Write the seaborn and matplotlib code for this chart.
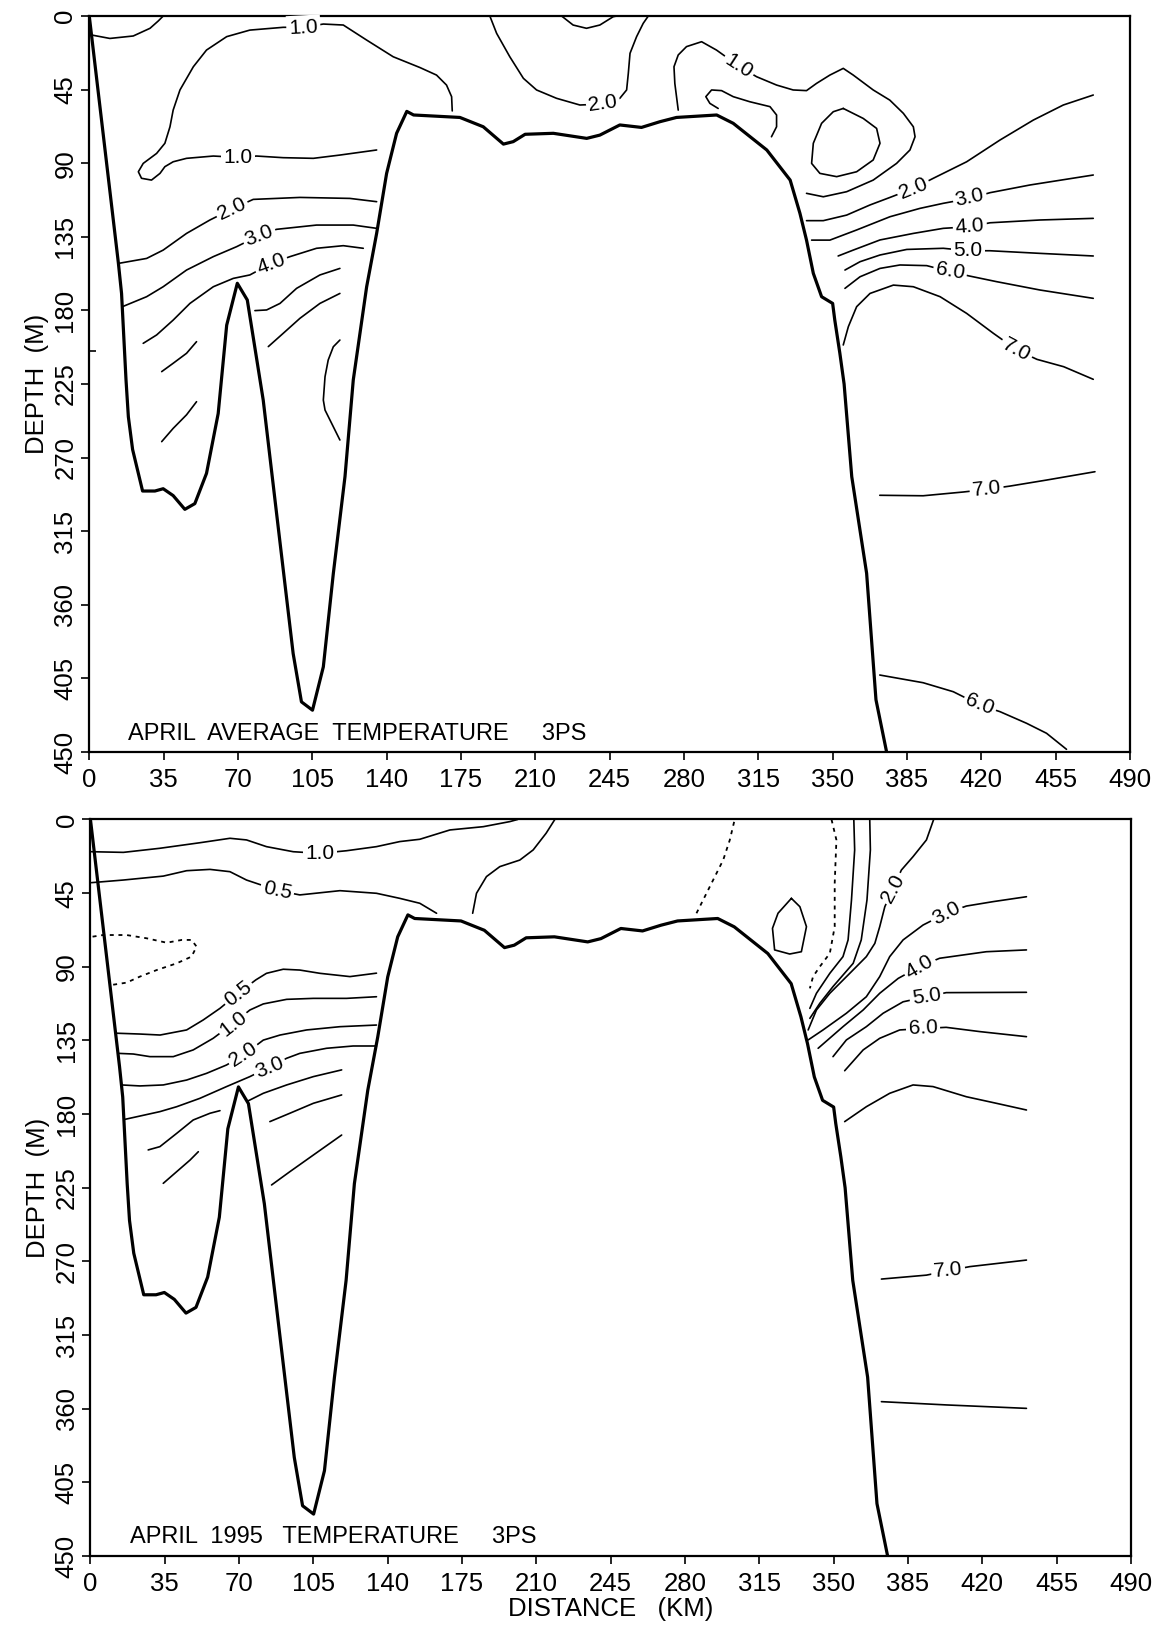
import matplotlib
matplotlib.use("Agg")
import matplotlib.pyplot as plt
import pandas as pd
import seaborn as sns

sns.set_style("ticks")
plt.rcParams["font.family"] = ["Liberation Sans", "DejaVu Sans"]
plt.rcParams.update({"text.color": "black", "axes.labelcolor": "black",
                     "xtick.color": "black", "ytick.color": "black",
                     "axes.edgecolor": "black"})

# ---------------- axes ----------------
DIST_TICKS = list(range(0, 491, 35))
DEPTH_TICKS = list(range(0, 451, 45))

# ---------------- bathymetry (same section for both panels) ----------------
BATHY = [(0, 0), (13.7, 151), (15.2, 169.6), (17.3, 222.5), (18.4, 245), (20.4, 265),
         (25.1, 290.4), (30.9, 290.4), (34.8, 289), (39.5, 293.2), (45, 301.6),
         (49.7, 298.1), (55.2, 279.6), (60.7, 243), (64.7, 189), (69.7, 163.4),
         (74.4, 173.6), (81.9, 234.8), (88.2, 304.2), (96, 389.8), (99.9, 419.3),
         (105.1, 424.4), (110.2, 397.9), (114.9, 340.9), (120.4, 281.6), (124.3, 222.5),
         (130.6, 165.5), (135.3, 132.9), (140, 96.2), (144.7, 71.7), (149.5, 58.3),
         (152.7, 60.5), (174.5, 62), (185.5, 67.7), (195, 78.3), (199.6, 76.8),
         (205.2, 72.3), (218.5, 71.7), (234.2, 74.8), (240.4, 72.8), (249.8, 66.6),
         (260, 68.1), (268.7, 64.6), (276.5, 62), (295.4, 60.5), (303.2, 65.6),
         (319, 81.9), (330, 100.3), (334.6, 120.6), (337.7, 137), (340.9, 157.3),
         (344.8, 171.6), (350, 175.7), (351, 185.8), (353.4, 206.2), (355.4, 225),
         (359, 281.6), (366, 340.7), (370.4, 418), (375.4, 449.9)]

# ---------------- top panel: April average ----------------
top_surface_left = [(1.1, 11.6), (9.7, 13.7), (20.7, 12.2), (28.6, 7.5), (32.5, 3), (34.8, 0)]
top_1p0_main = [(135.3, 81.9), (118, 85), (105.5, 87), (91.3, 86.6), (78.8, 85.6), (70.2, 86.4),
                (58.4, 85.6), (45.8, 87), (39.5, 89.1), (35.6, 92.1), (33.3, 96.2), (29.3, 100.3),
                (24.6, 99.2), (23.1, 95.2), (25.4, 90.1), (31.7, 84), (35.6, 77.8), (38, 67.7),
                (39.5, 57.5), (42.7, 45.2), (49, 31), (55.2, 20.8), (64.7, 12.6), (75.6, 8.6),
                (91.3, 6.9), (100.8, 6.9), (110.2, 4.9), (119.6, 5.5), (130.6, 14.7),
                (143.1, 24.9), (155.7, 31.5), (163.5, 36.1), (168.2, 42.2), (170.6, 49.3),
                (170.9, 58)]
top_2p0_left = [(135.3, 113.5), (122.7, 111.5), (99.2, 110.9), (77.2, 112.1), (67.8, 117.6),
                (56.8, 124.7), (45.8, 132.9), (34.8, 143.1), (27, 148.2), (13.9, 151.2)]
top_3p0_left = [(135.3, 129.8), (124.3, 127.8), (107, 127.8), (88.2, 130.4), (80.4, 133.9),
                (69.4, 141), (58.4, 147.1), (45.8, 155.3), (34.8, 165.5), (27, 171.6), (15.6, 177.7)]
top_4p0_left = [(129, 142), (119.6, 140.4), (107, 142), (94.5, 147.1), (85.8, 151.2), (75.6, 158.3),
                (67.8, 160.4), (58.4, 165.5), (47.4, 175.7), (39.5, 185.9), (31.7, 195), (25.4, 200.1)]
top_c5 = [(78, 180.1), (83.5, 179.7), (89.8, 175.7), (97.6, 166.5), (108.6, 158.3), (118, 154.3)]
top_c6 = [(84.3, 202.1), (91.3, 194), (99.2, 184.8), (108.6, 175.7), (118, 169.6)]
top_c7 = [(34.1, 217.4), (39.5, 212.3), (45.8, 206.2), (50.5, 199.1)]
top_c8 = [(34.1, 260.2), (39.5, 252.1), (45.8, 243.8), (50.5, 235.8)]
top_c9 = [(118, 198.1), (114.9, 202.2), (112.5, 210.3), (111, 220.5), (110.2, 234.8),
          (111, 240.9), (114.1, 249), (118, 259.2)]
top_loop_small = [(222.4, 0), (227.8, 5.5), (234.1, 7.5), (240.4, 5.5), (246.7, 0.4), (248.3, 0)]
top_2p0_mid = [(188.6, 0), (191.8, 10.6), (198, 24.9), (204.4, 38.1), (210.6, 45.2), (220, 50.3),
               (231, 54.4), (241.9, 53.8), (249.8, 50.3), (253, 45.2), (253.8, 35), (254.6, 22.8),
               (257.7, 12.6), (260.8, 4.5), (263.2, 0)]
top_1p0_right = [(277.3, 57.5), (275.7, 41.2), (275.3, 31), (277.3, 23.8), (281.2, 18.7),
                 (288.3, 15.7), (295.3, 20.8), (306.3, 31), (314.2, 37.1), (323.6, 42.2),
                 (331.4, 45.2), (337.7, 45.6), (342.4, 41.2), (348.7, 36.1), (355, 32),
                 (359.7, 36.1), (369.1, 45.2), (376.9, 51.4), (383.3, 59.5), (388, 67.7),
                 (388.8, 73.8), (386.4, 81.9), (380.1, 90.1), (369.1, 100.3), (356.6, 107.4),
                 (345.6, 110.5), (337.7, 108.4)]
top_tongue = [(296.1, 56.5), (292.2, 53.4), (290.3, 49.3), (293, 45.2), (297.7, 45.6),
              (303.2, 49.3), (311, 52.4), (320.5, 55.4), (323.6, 60.5), (323.6, 67.7), (321.2, 73.8)]
top_blob = [(355, 56.5), (364.4, 62.6), (370.7, 68.7), (372.3, 77.8), (369.1, 88), (361.3, 95.2),
            (351.9, 98.2), (344, 96.2), (340.1, 90.1), (340.9, 77.8), (344.8, 65.6),
            (350.3, 58.5), (355, 56.5)]
top_2p0_right = [(337.7, 125.1), (345.6, 125.1), (356.6, 121.7), (367.6, 115.5), (377, 110.9),
                 (388, 105.4), (397.4, 99.2), (413.1, 89.1), (428.8, 75.8), (444.5, 63.6),
                 (458.6, 54.4), (472.7, 48.3)]
top_3p0_right = [(340.1, 137), (348.7, 137), (361.3, 130.8), (377, 122.7), (391.1, 117.6),
                 (402.1, 114.5), (414.6, 111.5), (424.1, 108), (442.9, 103.3), (472.7, 97.2)]
top_4p0_right = [(352.6, 146.7), (359.7, 143.1), (372.3, 136.9), (388, 132.9), (402.1, 129.8),
                 (414.6, 128.8), (424.1, 126.4), (447.6, 124.7), (472.7, 123.7)]
top_5p0_right = [(355.8, 155.3), (362.9, 150.2), (372.3, 146.1), (384.9, 142.7), (402.1, 142),
                 (413.8, 143.5), (424.1, 143.5), (447.6, 145.1), (472.7, 146.7)]
top_6p0_right = [(355.8, 166.5), (362.9, 159.4), (372.3, 154.3), (381.7, 152.2), (394.3, 152.6),
                 (405.3, 156.3), (414.6, 159), (427.2, 162.4), (447.6, 167.5), (472.7, 172.6)]
top_7p0_right = [(355, 201.1), (357.4, 189.9), (361.3, 177.7), (367.6, 169.6), (378.6, 164.5),
                 (388, 165.5), (400.6, 171.6), (413.1, 181.8), (425.7, 194), (436.8, 204.2),
                 (446.2, 209.9), (458.8, 214.4), (472.7, 222.1)]
top_7p0_deep = [(372.2, 293), (392.6, 293.3), (411.5, 291), (422.5, 289.4), (433.4, 287.4),
                (450.7, 283.7), (473.5, 278.6)]
top_6p0_deep = [(372.2, 402.9), (392.6, 407.6), (406.8, 413.1), (419.3, 421.2), (428.8, 425.3),
                (441.3, 432.4), (450.7, 438.5), (460.1, 448.3)]

TOP_SOLID = [top_surface_left, top_1p0_main, top_2p0_left, top_3p0_left, top_4p0_left, top_c5,
             top_c6, top_c7, top_c8, top_c9, top_loop_small, top_2p0_mid, top_1p0_right,
             top_tongue, top_blob, top_2p0_right, top_3p0_right, top_4p0_right, top_5p0_right,
             top_6p0_right, top_7p0_right, top_7p0_deep, top_6p0_deep]
TOP_DOTTED = []
# (text, km, depth, angle in degrees)
TOP_LABELS = [("1.0", 100.8, 6.9, 3), ("1.0", 70.2, 86.2, 0), ("2.0", 67.2, 118.0, 25),
              ("3.0", 80.0, 134.3, 21), ("4.0", 85.6, 151.6, 20), ("2.0", 241.9, 53.8, 8),
              ("1.0", 305.8, 30.6, -33), ("2.0", 388.0, 105.4, 22), ("3.0", 414.6, 111.3, 12),
              ("4.0", 414.6, 128.6, 4), ("5.0", 413.8, 143.4, 0), ("6.0", 405.3, 156.2, -10),
              ("7.0", 436.6, 204.0, -28), ("7.0", 422.5, 289.4, 6), ("6.0", 419.3, 421.0, -22)]
TOP_TITLE = "APRIL  AVERAGE  TEMPERATURE     3PS"

# ---------------- bottom panel: April 1995 ----------------
bot_1p0_top = [(0.5, 19.7), (15.5, 20.1), (32.7, 17.6), (51.6, 14.2), (65.7, 11.5), (73.5, 12.5),
               (82.9, 16.6), (95.5, 19.7), (108, 20.7), (120.6, 19.1), (134.7, 16.6),
               (145.7, 13.5), (155.1, 12.1), (169.3, 6.4), (185, 4.4), (197.5, 1.3), (201.2, 0)]
bot_0p5_top = [(0.5, 38.6), (15.5, 37), (34.3, 34.6), (45.3, 31.3), (56.3, 30.5), (65.7, 31.9),
               (73.5, 37), (88.4, 43.5), (98.6, 46.1), (117.5, 43.5), (134.7, 45.1),
               (145.7, 48.2), (155.1, 51.2), (163, 57.3)]
bot_c_up = [(180, 57.3), (181.8, 45.1), (186.5, 34.9), (192.8, 28.8), (202.2, 24.8),
            (208.5, 18.6), (214.6, 8.4), (218.7, 0)]
bot_loop = [(330.1, 48.2), (334.1, 53.3), (337.2, 65.5), (334.8, 80.8), (329.3, 82.2),
            (322.2, 79.7), (321.2, 66.5), (323.8, 57.3), (330.1, 48.2)]
bot_0p5_low = [(134.7, 93.9), (122.2, 96), (108.1, 94), (98.6, 92), (90.8, 91.5), (82.9, 94),
               (77.9, 98), (69.6, 106.2), (61, 115.4), (53.1, 122.5), (45.3, 128.6),
               (32.8, 131.7), (23.4, 131.1), (12.4, 130.6)]
bot_1p0_low = [(134.7, 108.3), (120.6, 109.3), (105, 109.3), (92.4, 109.9), (81.4, 112.7),
               (75.1, 116.4), (67.2, 124.6), (57.8, 133.7), (48.4, 140.8), (39, 144.9),
               (28, 144.9), (20.2, 143.3), (13.1, 142.9)]
bot_2p0_low = [(134.7, 125.6), (117.5, 126.6), (101.8, 128.6), (89.3, 131.7), (81.4, 134.8),
               (72, 144), (64.1, 150), (54.7, 155.1), (45.3, 159.2), (34.3, 162.2),
               (23.3, 162.8), (14.7, 162.2)]
bot_3p0_low = [(134.7, 138.4), (123.7, 138.4), (111.2, 139.8), (98.6, 142.9), (92.4, 145.9),
               (84.5, 151.1), (75.1, 157.1), (64.1, 163.2), (51.5, 170.4), (40.6, 175.5),
               (32.7, 178.5), (23.3, 181.2), (16.3, 183.2)]
bot_r1 = [(74.3, 171.9), (81.4, 167.3), (92.4, 162.2), (105, 157.1), (118.3, 153)]
bot_r2 = [(84.5, 184.6), (93.9, 179.5), (105, 173.4), (118.3, 168.3)]
bot_r3 = [(85.3, 223.3), (93.9, 215.2), (105, 205), (118.3, 192.8)]
bot_l1 = [(27.2, 201.9), (32.7, 199.9), (40.6, 191.8), (48.4, 183.6), (56.3, 179.5), (61, 177.9)]
bot_l2 = [(34.3, 222.3), (40.6, 215.2), (46.9, 208.1), (50.8, 203)]
bot_s1 = [(359.5, 0), (359.9, 18.6), (358.4, 49.2), (356.8, 73.6), (354.4, 83.8), (348.2, 94),
          (341.9, 106.2), (338.8, 115.4)]
bot_s2 = [(367, 0), (367.3, 18.6), (365.7, 49.2), (363, 73.6), (359.2, 87.9), (349.7, 102.1),
          (343.5, 112.3), (338.8, 121.5)]
bot_2p0_right = [(397.1, 0), (393.7, 12.5), (387.4, 22.7), (381.9, 30.9), (378, 42.1),
                 (374.1, 53.3), (371.7, 65.5), (369.4, 75.7), (365.4, 83.8), (357.6, 94),
                 (348.2, 106.2), (341.9, 116.4), (338, 128.6)]
bot_3p0_right = [(440.8, 47.2), (425.1, 50.2), (412.5, 52.9), (403, 57.3), (392.1, 64.5),
                 (382.7, 73.6), (376.4, 83.8), (371.7, 96), (365.4, 108.3), (356, 118.4),
                 (345, 128.6), (338, 134.7)]
bot_4p0_right = [(440.8, 79.7), (421.9, 80.8), (399.9, 84.8), (390.5, 89.9), (380.4, 97.1),
                 (371.7, 106.2), (363.9, 116.4), (354.4, 126.6), (342.7, 139.8)]
bot_5p0_right = [(440.8, 105.6), (403, 105.8), (393.7, 108.3), (382.7, 111.4), (373.3, 118.4),
                 (365.4, 126.6), (356, 134.7), (349.7, 144.9)]
bot_6p0_right = [(440.8, 132.7), (418.8, 129.6), (403, 127), (392.1, 127.7), (381.1, 128.6),
                 (371.7, 133.7), (363.9, 140.8), (355.2, 153.5)]
bot_deep_a = [(355.2, 184.6), (365.4, 175.5), (376.4, 167.3), (387.4, 162.2), (396.8, 163.2),
              (412.5, 169.4), (426.6, 173.4), (440.8, 177.5)]
bot_7p0 = [(372.5, 280.8), (393.7, 278.4), (403.9, 275.7), (414.1, 273.2), (440.8, 269.2)]
bot_deep_b = [(372.5, 355.7), (403.1, 357.7), (440.8, 359.8)]
bot_dot_left = [(1, 71.6), (6, 70.6), (17, 70.6), (26.5, 72.6), (35.9, 75.3), (43, 73.6),
                (47.6, 73.6), (50, 77.7), (47.6, 83.8), (40.6, 87.9), (31.2, 92), (23.3, 96),
                (17, 99.7), (10, 101.1)]
bot_dot_mid = [(285.4, 57.3), (291.7, 41), (298, 24.7), (301.1, 12.5), (303.4, 0)]
bot_dot_right = [(349, 0), (351.3, 12.5), (350.5, 39), (350.5, 65.5), (348.2, 81.8),
                 (343.5, 89.9), (340.3, 96), (338.8, 103.2)]

BOT_SOLID = [bot_1p0_top, bot_0p5_top, bot_c_up, bot_loop, bot_0p5_low, bot_1p0_low, bot_2p0_low,
             bot_3p0_low, bot_r1, bot_r2, bot_r3, bot_l1, bot_l2, bot_s1, bot_s2, bot_2p0_right,
             bot_3p0_right, bot_4p0_right, bot_5p0_right, bot_6p0_right, bot_deep_a, bot_7p0,
             bot_deep_b]
BOT_DOTTED = [bot_dot_left, bot_dot_mid, bot_dot_right]
BOT_LABELS = [("1.0", 108.0, 20.5, 0), ("0.5", 88.0, 43.2, -12), ("0.5", 69.6, 106.2, 38),
              ("1.0", 67.2, 124.6, 38), ("2.0", 72.0, 143.6, 33), ("3.0", 84.3, 151.3, 22),
              ("2.0", 378.0, 42.1, 62), ("3.0", 403.0, 57.3, 28), ("4.0", 390.5, 89.9, 30),
              ("5.0", 393.7, 108.0, 8), ("6.0", 392.1, 127.7, 2), ("7.0", 403.9, 275.7, 5)]
BOT_TITLE = "APRIL  1995   TEMPERATURE     3PS"


def draw_line(ax, pts, ls="-", lw=1.2, z=2):
    df = pd.DataFrame(pts, columns=["km", "depth"])
    sns.lineplot(data=df, x="km", y="depth", sort=False, estimator=None, color="black",
                 linewidth=lw, linestyle=ls, ax=ax, zorder=z)


def draw_panel(ax, solids, dotted, labels, title, title_pos, xlabel):
    for pts in solids:
        draw_line(ax, pts)
    for pts in dotted:
        draw_line(ax, pts, ls=(0, (2.2, 2.6)), lw=1.3)
    draw_line(ax, BATHY, lw=2.3, z=4)
    for txt, x, y, ang in labels:
        ax.text(x, y, txt, fontsize=15, rotation=ang, rotation_mode="anchor",
                ha="center", va="center", zorder=5, color="black",
                bbox=dict(boxstyle="square,pad=0.12", fc="white", ec="none"))
    ax.text(title_pos[0], title_pos[1], title, fontsize=17, ha="left", va="baseline",
            zorder=6, color="black")
    ax.set_xlim(0, 490)
    ax.set_ylim(450, 0)
    ax.set_xticks(DIST_TICKS)
    ax.set_xticklabels([str(t) for t in DIST_TICKS])
    ax.set_yticks(DEPTH_TICKS)
    ax.set_yticklabels([str(t) for t in DEPTH_TICKS], rotation=90, va="center")
    ax.tick_params(axis="x", which="major", direction="out", length=5.5, width=1.2,
                   labelsize=18.5, pad=6, colors="black")
    ax.tick_params(axis="y", which="major", direction="out", length=5.5, width=1.2,
                   labelsize=18.5, pad=3, colors="black")
    for sp in ax.spines.values():
        sp.set_linewidth(1.6)
        sp.set_visible(True)
        sp.set_color("black")
    ax.set_ylabel("DEPTH  (M)", fontsize=18.5, labelpad=3, color="black")
    ax.set_xlabel(xlabel, fontsize=18.5, labelpad=1, color="black")


fig = plt.figure(figsize=(11.7, 16.36), dpi=100)
ax_top = fig.add_axes([0.0763, 0.5403, 0.8895, 0.4499])
ax_bot = fig.add_axes([0.0773, 0.0489, 0.8893, 0.4502])

draw_panel(ax_top, TOP_SOLID, TOP_DOTTED, TOP_LABELS, TOP_TITLE, (18.2, 442.6), "")
draw_panel(ax_bot, BOT_SOLID, BOT_DOTTED, BOT_LABELS, BOT_TITLE, (18.6, 442.0), "DISTANCE   (KM)")

ax_top.set_yticks([205], minor=True)
ax_top.tick_params(axis="y", which="minor", direction="in", length=5, width=1.2, colors="black")

fig.savefig("out.png", dpi=100, facecolor="white")
